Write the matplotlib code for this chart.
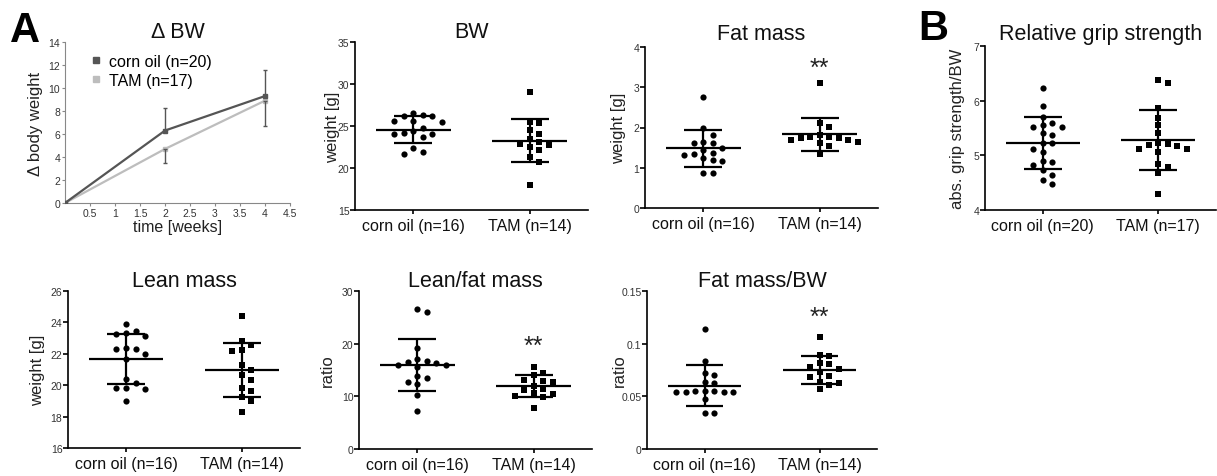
import numpy as np
import matplotlib
matplotlib.use("Agg")
import matplotlib.pyplot as plt
from matplotlib.lines import Line2D

plt.rcParams['font.family'] = ['Liberation Sans', 'DejaVu Sans']

W, H = 1217, 477

# delta body weight over time (mean, one-sided SD)
weeks = [0, 2, 4]
dbw_corn = [0, 6.3, 9.3]
dbw_corn_sd = [0, 2.0, 2.3]
dbw_tam = [0, 4.7, 8.9]
dbw_tam_sd = [0, 1.2, 2.2]

labels_body = ['corn oil (n=16)', 'TAM (n=14)']
labels_grip = ['corn oil (n=20)', 'TAM (n=17)']

bw_corn = [26.6, 25.6, 26.2, 25.5, 26.2, 25.6, 26.3, 24.2, 23.7, 24.8, 24.0, 24.0, 24.4, 22.4, 21.7, 21.9]
bw_tam = [29.1, 25.5, 25.3, 24.5, 24.1, 23.5, 23.1, 22.7, 22.5, 22.1, 21.3, 20.7, 18.0, 22.8]

fat_corn = [2.77, 1.99, 1.82, 1.65, 1.62, 1.62, 1.43, 1.49, 1.37, 1.32, 1.34, 1.19, 1.18, 1.24, 0.87, 0.87]
fat_tam = [3.11, 2.12, 2.01, 1.76, 1.73, 1.70, 1.65, 1.62, 1.68, 1.73, 1.76, 1.82, 1.55, 1.33]

grip_corn = [6.24, 5.91, 5.71, 5.52, 5.60, 5.51, 5.55, 5.41, 5.38, 5.22, 5.22, 5.11, 5.06, 4.87, 4.90,
             4.82, 4.73, 4.64, 4.55, 4.47]
grip_tam = [6.38, 6.32, 5.87, 5.69, 5.55, 5.40, 5.20, 5.17, 5.11, 5.12, 5.18, 5.22, 5.06, 4.85, 4.79,
            4.68, 4.29]

lean_corn = [23.89, 23.45, 23.32, 23.11, 23.28, 22.38, 22.32, 22.32, 22.0, 21.64, 20.40, 20.15, 19.81,
             19.77, 19.83, 19.02]
lean_tam = [24.40, 22.79, 22.21, 22.26, 22.53, 21.30, 20.94, 20.62, 20.30, 19.83, 19.62, 19.23, 19.02, 18.28]

ratio_corn = [26.5, 26.0, 19.15, 16.8, 16.36, 15.98, 15.54, 15.98, 16.49, 17.0, 13.44, 13.82, 12.37, 12.81,
              10.27, 7.17]
ratio_tam = [15.54, 14.46, 14.08, 13.19, 13.0, 12.05, 12.81, 11.41, 11.29, 10.46, 9.83, 10.15, 10.59, 7.80]

fmbw_corn = [0.114, 0.084, 0.072, 0.070, 0.064, 0.063, 0.055, 0.054, 0.054, 0.0555, 0.054, 0.054, 0.0555,
             0.047, 0.034, 0.034]
fmbw_tam = [0.106, 0.089, 0.088, 0.082, 0.081, 0.073, 0.078, 0.0755, 0.068, 0.069, 0.064, 0.063, 0.061, 0.057]

fig = plt.figure(figsize=(W / 100, H / 100), dpi=100)


def add_axes(l, t, r, b):
    # box given in pixels, top-left origin
    return fig.add_axes([l / W, 1 - b / H, (r - l) / W, (b - t) / H])


def swarm_x(ax, xc, vals, gx=9.5, gy=7.0):
    # prism-like scatter: points closer than gy in height are pushed gx apart
    pts = ax.transData.transform(np.column_stack([np.full(len(vals), xc), vals]))
    x0, ys = pts[0, 0], pts[:, 1]
    steps = np.arange(0.5, 90, 0.5)
    cands = np.concatenate([[0], np.column_stack([steps, -steps]).ravel()])
    placed = []
    offs = np.zeros(len(vals))
    for i in np.argsort(-ys):
        for c in cands:
            if all(abs(c - px) >= gx or abs(ys[i] - py) >= gy for px, py in placed):
                offs[i] = c
                placed.append((c, ys[i]))
                break
    back = ax.transData.inverted().transform(np.column_stack([x0 + offs, ys]))
    return back[:, 0]


def dot_panel(box, a, b, ylim, yticks, ylabel, title, xlabels, title_pad, label_px, stars=None):
    ax = add_axes(*box)
    ax.set_xlim(-0.5, 1.5)
    ax.set_ylim(*ylim)
    for i, (vals, mk, sz) in enumerate([(a, 'o', 20), (b, 's', 16)]):
        vals = np.asarray(vals)
        xs = swarm_x(ax, i, vals)
        ax.scatter(xs, vals, marker=mk, s=sz, c='black', linewidths=0, zorder=3, clip_on=False)
        m, sd = vals.mean(), vals.std(ddof=1)
        ax.hlines(m, i - 0.32, i + 0.32, color='black', lw=1.6, zorder=4)
        ax.hlines([m - sd, m + sd], i - 0.165, i + 0.165, color='black', lw=1.6, zorder=4)
        ax.vlines(i, m - sd, m + sd, color='black', lw=1.6, zorder=4)
    for s in ['top', 'right']:
        ax.spines[s].set_visible(False)
    for s in ['left', 'bottom']:
        ax.spines[s].set_linewidth(1.2)
    ax.set_yticks(yticks, [f'{v:g}' for v in yticks])
    ax.set_xticks([0, 1], xlabels)
    ax.tick_params(axis='y', length=3.5, width=1.2, pad=0.5, labelsize=7.5, labelcolor='#333333')
    ax.tick_params(axis='x', length=3, width=1.2, pad=3, labelsize=11.5, labelcolor='#111111')
    ax.set_title(title, fontsize=15.5, pad=title_pad, color='#111111')
    ax.set_ylabel(ylabel, fontsize=12, color='#222222')
    w = box[2] - box[0]
    ax.yaxis.set_label_coords(-(box[0] - label_px - 8) / w, 0.5)
    if stars is not None:
        ax.text(1, stars, '**', transform=ax.get_xaxis_transform(), ha='center', va='baseline',
                fontsize=18, color='#222222')
    return ax


# panel A: delta BW
ax = add_axes(65, 43, 290, 204)
ax.plot(weeks, dbw_corn, color='#555555', lw=1.6, marker='s', ms=3.5, zorder=3)
ax.plot(weeks, dbw_tam, color='#bdbdbd', lw=1.6, marker='s', ms=3.5, zorder=2)
ax.errorbar(weeks, dbw_corn, yerr=[np.zeros(3), dbw_corn_sd], fmt='none', ecolor='#555555',
            elinewidth=1, capsize=1.5)
ax.errorbar(weeks, dbw_tam, yerr=[dbw_tam_sd, np.zeros(3)], fmt='none', ecolor='#555555',
            elinewidth=1, capsize=1.5)
ax.set_xlim(0, 4.5)
ax.set_ylim(0, 14)
ax.set_xticks(np.arange(0.5, 4.6, 0.5), [f'{v:g}' for v in np.arange(0.5, 4.6, 0.5)])
ax.set_yticks(range(0, 15, 2))
for s in ['top', 'right']:
    ax.spines[s].set_visible(False)
for s in ['left', 'bottom']:
    ax.spines[s].set_linewidth(0.8)
    ax.spines[s].set_color('#888888')
ax.tick_params(length=2, width=0.8, color='#888888', pad=1.5, labelsize=7.5, labelcolor='#333333')
ax.set_title('Δ BW', fontsize=15.5, pad=2, color='#111111')
ax.set_ylabel('Δ body weight', fontsize=12, color='#222222')
ax.yaxis.set_label_coords(-(65 - 35 - 8) / 225, 0.5)
ax.set_xlabel('time [weeks]', fontsize=11.5, labelpad=1, color='#222222')
handles = [Line2D([], [], ls='none', marker='s', ms=4.5, color='#555555'),
           Line2D([], [], ls='none', marker='s', ms=4.5, color='#bdbdbd')]
ax.legend(handles, ['corn oil (n=20)', 'TAM (n=17)'], loc='upper left', bbox_to_anchor=(0.08, 0.965),
          frameon=False, fontsize=11.5, handlelength=0.8, handletextpad=0.4, labelspacing=0.25,
          borderaxespad=0)

dot_panel((355, 43, 588, 211), bw_corn, bw_tam, (15, 35), [15, 20, 25, 30, 35], 'weight [g]', 'BW',
          labels_body, 2, 332)
dot_panel((645, 48, 878, 209), fat_corn, fat_tam, (0, 4), [0, 1, 2, 3, 4], 'weight [g]', 'Fat mass',
          labels_body, 6, 618, stars=0.83)
dot_panel((985, 47, 1216, 211), grip_corn, grip_tam, (4, 7), [4, 5, 6, 7], 'abs. grip strength/BW',
          'Relative grip strength', labels_grip, 5, 957)
dot_panel((68, 292, 300, 449), lean_corn, lean_tam, (16, 26), [16, 18, 20, 22, 24, 26], 'weight [g]',
          'Lean mass', labels_body, 3.5, 37)
dot_panel((359, 292, 592, 450), ratio_corn, ratio_tam, (0, 30), [0, 10, 20, 30], 'ratio',
          'Lean/fat mass', labels_body, 3, 327, stars=0.61)
dot_panel((647, 292, 877, 450), fmbw_corn, fmbw_tam, (0, 0.15), [0, 0.05, 0.1, 0.15], 'ratio',
          'Fat mass/BW', labels_body, 3, 619, stars=0.79)

fig.text(10 / W, 1 - 42 / H, 'A', fontsize=30, fontweight='bold', va='baseline')
fig.text(918 / W, 1 - 40 / H, 'B', fontsize=30, fontweight='bold', va='baseline')

fig.savefig('out.png', dpi=100)
